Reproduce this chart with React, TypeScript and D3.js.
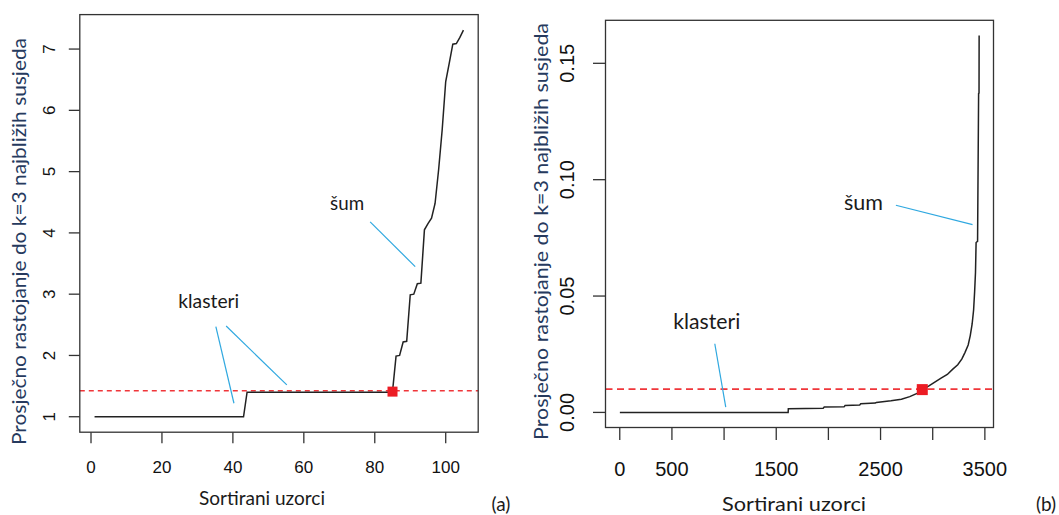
import React from "react";
import * as d3 from "d3";

// (a) sorted average distance to k=3 nearest neighbours, small data set
const idxA = [1, 43, 44, 84, 85, 86, 87, 88, 89, 90, 91, 92, 93, 94, 95, 96, 97, 98, 99, 100, 101, 102, 103, 104, 105];
const distA = [1.0, 1.0, 1.4, 1.4, 1.41, 1.99, 2.0, 2.22, 2.23, 2.99, 3.0, 3.17, 3.18, 4.05, 4.15, 4.24, 4.48, 5.03, 5.68, 6.47, 6.77, 7.08, 7.09, 7.19, 7.31];
const ticksXA = [0, 20, 40, 60, 80, 100];
const labelsXA = [0, 20, 40, 60, 80, 100];
const ticksYA = [1, 2, 3, 4, 5, 6, 7];
const epsA = 1.424;
const kneeA = [85, 1.41];

// (b) same for the big data set
const idxB = [1, 1614, 1616, 1950, 1960, 2150, 2160, 2300, 2310, 2450, 2460, 2600, 2700, 2780, 2850, 2900, 2960, 3020, 3080, 3140, 3190, 3240, 3280, 3310, 3340, 3360, 3378, 3392, 3402, 3410, 3416, 3430, 3440, 3444, 3445];
const distB = [0, 0, 0.0016, 0.0018, 0.0023, 0.0024, 0.003, 0.0032, 0.0037, 0.004, 0.0043, 0.005, 0.0057, 0.0068, 0.0082, 0.0098, 0.0113, 0.013, 0.0147, 0.0163, 0.0185, 0.0205, 0.023, 0.0258, 0.029, 0.033, 0.038, 0.044, 0.052, 0.06, 0.073, 0.0735, 0.137, 0.1372, 0.162];
const ticksXB = [0, 500, 1000, 1500, 2000, 2500, 3000, 3500];
const labelsXB = [0, 500, 1500, 2500, 3500];
const ticksYB = [0, 0.05, 0.1, 0.15];
const epsB = 0.01;
const kneeB = [2900, 0.0098];

// annotation callouts, in data units: [x1, y1, x2, y2]
const calloutsA = [
  [35.2, 2.47, 40.3, 1.22],
  [38.1, 2.48, 55.2, 1.52],
  [78.7, 4.18, 91.4, 3.45],
];
const textsA = [
  { t: "klasteri", x: 33.2, y: 2.77, w: 61 },
  { t: "šum", x: 72.2, y: 4.38, w: 34 },
];
const calloutsB = [
  [911, 0.0295, 1016, 0.0023],
  [2647, 0.089, 3382, 0.0807],
];
const textsB = [
  { t: "klasteri", x: 834, y: 0.036, w: 67 },
  { t: "šum", x: 2337, y: 0.0871, w: 39 },
];

const yTitle = "Prosječno rastojanje do k=3 najbližih susjeda";
const xTitle = "Sortirani uzorci";

const rpad = (a: number, b: number) => {
  const r = (b - a) * 0.04;
  return [a - r, b + r];
};

const tickFont = "'Liberation Sans', Arial, sans-serif";
const textFont = "Lato, 'Open Sans', sans-serif";

function Panel(p: any) {
  const x = d3.scaleLinear().domain(rpad(d3.min(p.xs)!, d3.max(p.xs)!)).range(p.xRange);
  const y = d3.scaleLinear().domain(rpad(d3.min(p.ys)!, d3.max(p.ys)!)).range(p.yRange);
  const pts: [number, number][] = p.xs.map((d: number, i: number) => [d, p.ys[i]]);
  const line = d3.line<[number, number]>().x((d) => x(d[0])).y((d) => y(d[1]));
  const [x0, x1] = p.xRange;
  const [yb, yt] = p.yRange;
  const sq = p.sq;
  return (
    <g>
      {/* threshold */}
      <line x1={x0} x2={x1} y1={y(p.eps)} y2={y(p.eps)} stroke="#f0363a" strokeWidth={p.dashW} strokeDasharray={p.dash} />
      <path d={line(pts)!} fill="none" stroke="#222" strokeWidth={1.5} />
      <rect x={x(p.knee[0]) - sq / 2} y={y(p.knee[1]) - sq / 2} width={sq} height={sq} fill="#ec1c24" />
      {p.callouts.map((c: number[], i: number) => (
        <line key={i} x1={x(c[0])} y1={y(c[1])} x2={x(c[2])} y2={y(c[3])} stroke="#2fa8e0" strokeWidth={1.2} />
      ))}
      {p.texts.map((t: any, i: number) => (
        <text key={i} x={x(t.x)} y={y(t.y)} textAnchor="middle" fontFamily={textFont} fontSize={p.annSize}
          fill="#1a1a1a" textLength={t.w} lengthAdjust="spacingAndGlyphs">{t.t}</text>
      ))}
      <rect x={x0} y={yt} width={x1 - x0} height={yb - yt} fill="none" stroke="#333" strokeWidth={1.3} />
      {/* x axis */}
      {p.ticksX.map((t: number) => (
        <line key={"xt" + t} x1={x(t)} x2={x(t)} y1={yb} y2={yb + p.tick} stroke="#333" strokeWidth={1.3} />
      ))}
      {p.labelsX.map((t: number) => (
        <text key={"xl" + t} x={x(t)} y={yb + p.xLabOff} textAnchor="middle" fontFamily={tickFont}
          fontSize={p.fs} fill="#111">{t}</text>
      ))}
      {/* y axis */}
      {p.ticksY.map((t: number) => (
        <line key={"yt" + t} x1={x0 - p.tick} x2={x0} y1={y(t)} y2={y(t)} stroke="#333" strokeWidth={1.3} />
      ))}
      {p.ticksY.map((t: number) => (
        <text key={"yl" + t} transform={`translate(${x0 - p.yLabOff},${y(t)}) rotate(-90)`} textAnchor="middle"
          fontFamily={tickFont} fontSize={p.fs} fill="#111">{p.fmt(t)}</text>
      ))}
      <text transform={`translate(${p.yTitleX},${p.yTitleY}) rotate(-90)`} textAnchor="middle" fontFamily={textFont}
        fontSize={p.titleSize} fill="#263a5e" textLength={p.yTitleLen} lengthAdjust="spacingAndGlyphs">{yTitle}</text>
      <text x={p.xTitleX} y={p.xTitleY} textAnchor="middle" fontFamily={textFont} fontSize={p.titleSize}
        fill="#1a1a1a" textLength={p.xTitleLen} lengthAdjust="spacingAndGlyphs">{xTitle}</text>
      <text x={p.tagX} y={p.tagY} textAnchor="middle" fontFamily={textFont} fontSize={19} fill="#1a1a1a">{p.tag}</text>
    </g>
  );
}

export default function App() {
  return (
    <svg width={1059} height={515} style={{ position: "absolute", left: 0, top: 0, background: "#fff" }}>
      <Panel xs={idxA} ys={distA} xRange={[79.8, 478.2]} yRange={[432.2, 14.6]} ticksX={ticksXA} labelsX={labelsXA}
        ticksY={ticksYA} fmt={(v: number) => String(v)} eps={epsA} knee={kneeA} sq={10} callouts={calloutsA}
        texts={textsA} annSize={19} fs={17} tick={11} xLabOff={41} yLabOff={25} yTitleX={26} yTitleY={241.5}
        yTitleLen={407} titleSize={19} xTitleX={262} xTitleY={505} xTitleLen={126} tag="(a)" tagX={501} tagY={511}
        dash="5,4" dashW={1.4} />
      <Panel xs={idxB} ys={distB} xRange={[605.5, 993.5]} yRange={[427.5, 20.3]} ticksX={ticksXB} labelsX={labelsXB}
        ticksY={ticksYB} fmt={d3.format(".2f")} eps={epsB} knee={kneeB} sq={11} callouts={calloutsB}
        texts={textsB} annSize={21.5} fs={20} tick={12.5} xLabOff={48} yLabOff={32} yTitleX={548} yTitleY={231.5}
        yTitleLen={417} titleSize={20} xTitleX={794} xTitleY={511} xTitleLen={144} tag="(b)" tagX={1046} tagY={511}
        dash="7,4.5" dashW={1.6} />
    </svg>
  );
}
